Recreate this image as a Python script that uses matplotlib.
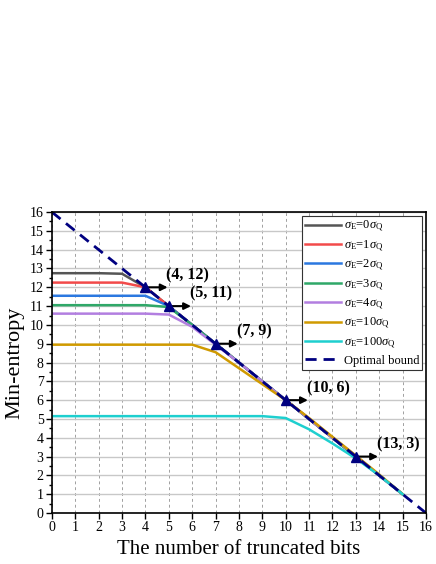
import numpy as np
import matplotlib.pyplot as plt
from matplotlib.ticker import MultipleLocator

plt.rcParams['font.family'] = ['Liberation Serif', 'DejaVu Serif']
plt.rcParams['mathtext.fontset'] = 'custom'
plt.rcParams['mathtext.rm'] = 'Liberation Serif'
plt.rcParams['mathtext.it'] = 'Liberation Serif:italic'

# data
bits = [0, 1, 2, 3, 4, 5, 6, 7, 8, 9, 10, 11, 12, 13, 14, 15]
h_s0 = [12.75, 12.75, 12.75, 12.72, 12.0, 11.0, 10.0, 9.0, 8.0, 7.0, 6.0, 5.0, 4.0, 3.0, 2.0, 1.0]
h_s1 = [12.25, 12.25, 12.25, 12.25, 12.0, 11.0, 10.0, 9.0, 8.0, 7.0, 6.0, 5.0, 4.0, 3.0, 2.0, 1.0]
h_s2 = [11.55, 11.55, 11.55, 11.55, 11.55, 11.0, 10.0, 9.0, 8.0, 7.0, 6.0, 5.0, 4.0, 3.0, 2.0, 1.0]
h_s3 = [11.05, 11.05, 11.05, 11.05, 11.05, 10.95, 10.0, 9.0, 8.0, 7.0, 6.0, 5.0, 4.0, 3.0, 2.0, 1.0]
h_s4 = [10.6, 10.6, 10.6, 10.6, 10.6, 10.55, 9.9, 8.95, 8.0, 7.0, 6.0, 5.0, 4.0, 3.05, 2.0, 1.0]
h_s10 = [8.95, 8.95, 8.95, 8.95, 8.95, 8.95, 8.95, 8.55, 7.7, 6.85, 6.0, 5.05, 4.05, 3.05, 2.05, 1.0]
h_s100 = [5.15, 5.15, 5.15, 5.15, 5.15, 5.15, 5.15, 5.15, 5.15, 5.15, 5.05, 4.45, 3.7, 2.9, 2.0, 1.0]

bound_x = [0, 16]
bound_y = [16, 0]

pts_x = [4, 5, 7, 10, 13]
pts_y = [12, 11, 9, 6, 3]

series = [
    (h_s0, '#555555', r'$\sigma_\mathrm{E}$=0$\sigma_\mathrm{Q}$'),
    (h_s1, '#f24a4a', r'$\sigma_\mathrm{E}$=1$\sigma_\mathrm{Q}$'),
    (h_s2, '#2b78e0', r'$\sigma_\mathrm{E}$=2$\sigma_\mathrm{Q}$'),
    (h_s3, '#2fa868', r'$\sigma_\mathrm{E}$=3$\sigma_\mathrm{Q}$'),
    (h_s4, '#b27ee0', r'$\sigma_\mathrm{E}$=4$\sigma_\mathrm{Q}$'),
    (h_s10, '#d09a00', r'$\sigma_\mathrm{E}$=10$\sigma_\mathrm{Q}$'),
    (h_s100, '#1ecfcf', r'$\sigma_\mathrm{E}$=100$\sigma_\mathrm{Q}$'),
]

fig = plt.figure(figsize=(4.36, 5.64), dpi=100)
ax = fig.add_axes([0.119, 0.0904, 0.858, 0.5336])

for y, c, lab in series:
    ax.plot(bits, y, color=c, lw=1.8, label=lab)

ax.plot(bound_x, bound_y, color='#000080', lw=2, ls=(0, (4, 2.5)), label='Optimal bound')

for x, y in zip(pts_x, pts_y):
    ax.annotate('', xy=(x + 0.95, y), xytext=(x, y),
                arrowprops=dict(arrowstyle='-|>', color='black', lw=1.5,
                                mutation_scale=10, shrinkA=0, shrinkB=0))
    ax.text(x + 0.9, y + 0.65, '(%d, %d)' % (x, y), fontsize=11.5,
            fontweight='bold', ha='left', va='center')
ax.plot(pts_x, pts_y, ls='none', marker='^', color='#000080', ms=7, zorder=5)

ax.set_xlim(0, 16)
ax.set_ylim(0, 16)
ax.xaxis.set_major_locator(MultipleLocator(1))
ax.yaxis.set_major_locator(MultipleLocator(1))
ax.yaxis.set_minor_locator(MultipleLocator(0.5))
ax.tick_params(axis='both', which='major', direction='out', length=4, width=1, labelsize=10, pad=2)
ax.tick_params(axis='y', which='minor', direction='out', length=2, width=1)
ax.grid(axis='y', color='#c8c8c8', lw=1)
ax.grid(axis='x', color='#a0a0a0', lw=0.7, ls=(0, (3, 3)))
ax.set_axisbelow(True)
for sp in ax.spines.values():
    sp.set_linewidth(1.2)

ax.set_xlabel('The number of truncated bits', fontsize=15, labelpad=4)
ax.set_ylabel('Min-entropy', fontsize=16, labelpad=4)

leg = ax.legend(loc='upper right', fontsize=9, frameon=True, fancybox=False,
                edgecolor='#333333', framealpha=1, handlelength=2.9,
                handletextpad=0.2, labelspacing=0.32, borderpad=0.25,
                borderaxespad=0.3)
leg.get_frame().set_linewidth(0.8)

fig.savefig('out.png', dpi=100)
